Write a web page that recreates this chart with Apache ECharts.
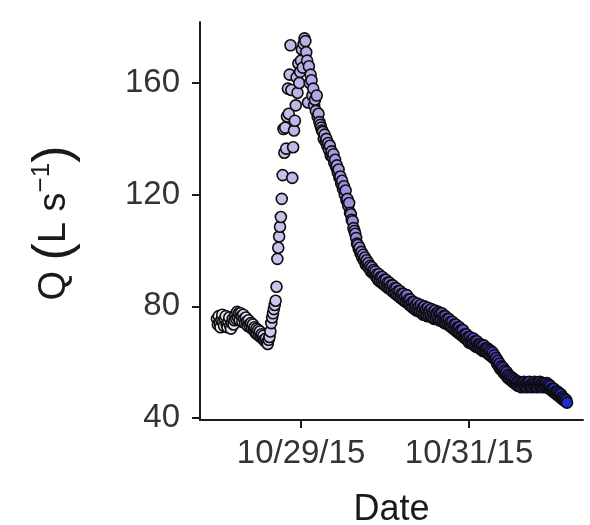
<!DOCTYPE html>
<html>
<head>
<meta charset="utf-8">
<title>Discharge hydrograph</title>
<script src="https://cdn.jsdelivr.net/npm/echarts@6/dist/echarts.min.js"></script>
<style>
  html, body { margin: 0; padding: 0; background: #ffffff; }
  #chart { width: 590px; height: 525px; }
</style>
</head>
<body>
<div id="chart"></div>
<script>
// Record start: 28 Oct 2015, 00:00 local time
const recordStart = [2015, 10, 28];

// Pre-storm base flow, 15-minute readings from 10/28 00:00 (L/s)
const baseflowQ = [
  75.5, 73.5, 76.5, 74, 72.5, 75, 77, 74.5, 73, 75.5, 76.5, 73.5,
  72.5, 74.5, 76, 73, 72, 74, 75.5, 73.5,
  75, 77, 75.5, 78, 76, 77.5, 75, 77.5, 76.5, 74.5, 77, 75.5,
  74, 76, 74.5, 73, 75, 73.5, 72.5, 74,
  72, 73.5, 71.5, 72.5, 70.5, 72, 70, 71.5, 69.5, 71, 69, 70,
  68.5, 69.5, 68, 67.5, 68.5, 67, 66.5, 68
];

// Storm rise and peak, 15-minute readings from 10/28 15:00 (L/s)
const stormQ = [
  69, 71, 74, 76, 77.5, 79, 80.5, 82, 87, 97, 101, 105,
  108.5, 112, 118.5, 127, 143.5, 135, 144, 136.5, 148, 158, 149, 163,
  173.5, 157.5, 126, 137, 143, 146.5, 152, 162, 156.5, 167, 160, 164,
  168, 172, 165.5, 174, 176, 175, 171, 168, 153, 166, 160, 163,
  161, 155.5, 158, 152, 154, 150, 155.5, 148, 149, 146, 145, 144,
  143
];

// Recession, 15-minute readings from 10/29 06:15 (L/s)
const recessionQ = [
  142.5, 140, 141.5, 139,   140, 137.5, 138.5, 136,   137.5, 134, 135.5, 133.5,
  134.5, 131.5, 132.5, 130,   130.5, 128, 129, 126,   126.5, 124, 125, 122,
  123, 120, 121.5, 118,   118.5, 116, 117, 113.5,   113, 111, 110.5, 108,
  107, 106, 104.5, 102.5,   102, 100.5, 101, 99,   99.5, 97.5, 98.5, 96.5,
  97.5, 95, 96.5, 94.5,   95.5, 93.5, 94.5, 92.5,   94, 92, 93, 91.5,
  92.5, 90.5, 91.5, 89.5,   91.5, 89, 90.5, 88.5,   90.5, 88, 89.5, 87.5,
  89.5, 87, 88.5, 86.5,   88.5, 86.5, 87.5, 85.5,   87.5, 85, 86.5, 84.5,
  86.5, 84, 85.5, 83.5,   85.5, 83, 84.5, 82.5,   84.5, 82, 83.5, 81.5,
  84, 81.5, 82.5, 80.5,   82.5, 80, 81.5, 79.5,   81.5, 79, 80.5, 78.5,
  81, 78.5, 80, 78,   80.5, 77.5, 79.5, 77,   80, 77, 79, 76.5,
  79.5, 76.5, 78.5, 76.5,   79, 76, 78, 75.5,   78.5, 75.5, 77.5, 75.5,
  78, 75, 77.5, 75,   77.5, 74.5, 76.5, 74,   76.5, 74, 75.5, 73.5,
  75.5, 73, 74.5, 72.5,   74.5, 72, 73.5, 71.5,   73.5, 71, 72.5, 70.5,
  72.5, 70, 71.5, 69.5,   71.5, 69, 70, 68.5,   70, 68, 69, 67,
  69, 67, 68, 66.5,   68.5, 66, 67.5, 65.5,   67.5, 65.5, 66.5, 65,
  66.5, 64.5, 66, 64,   66, 64, 65, 63.5,   65, 63, 64.5, 62.5,
  64, 62, 63.5, 61.5,   62.5, 61, 61.5, 59.5,   60.5, 58.5, 59.5, 57.5,
  58.5, 57, 58, 56,   57, 55.5, 56.5, 54.5,   55.5, 54, 55, 53.5,
  54.5, 53, 54, 52.5,   53.5, 52, 53, 51.5,   53, 51.5, 52.5, 51,
  52.5, 51.5, 53, 51.5,   52.5, 51, 52.5, 51.5,   53, 51.5, 52, 51,
  52.5, 51.5, 53, 51.5,   52.5, 51, 52.5, 51.5,   53, 51.5, 52.5, 51,
  52.5, 51.5, 52, 51,   52.5, 51, 52, 50.5,   51.5, 50, 50.5, 49.5,
  50.5, 49, 49.5, 48.5,   49.5, 48, 49, 47.5,   48.5, 47, 47.5, 46.5,
  47, 46, 46.5, 45.5
];

// Axis tick positions
const yTicks = [40, 80, 120, 160];
const xTickDates = [[2015, 10, 29], [2015, 10, 31]];

const HOUR = 3600 * 1000;
const t0 = new Date(recordStart[0], recordStart[1] - 1, recordStart[2]).getTime();

// Attach timestamps: each block is a regular logger interval
function block(startHour, stepMinutes, values) {
  return values.map((q, i) => [t0 + startHour * HOUR + i * stepMinutes * 60000, q]);
}
const points = []
  .concat(block(0, 15, baseflowQ))
  .concat(block(15, 15, stormQ))
  .concat(block(30.25, 15, recessionQ));

const tFirst = points[0][0];
const tLast = points[points.length - 1][0];
const xTicks = xTickDates.map(d => new Date(d[0], d[1] - 1, d[2]).getTime());

function fmtDate(v) {
  const d = new Date(v);
  const yy = String(d.getFullYear() % 100).padStart(2, '0');
  return (d.getMonth() + 1) + '/' + d.getDate() + '/' + yy;
}

const FONT = '"Liberation Sans", Arial, Helvetica, sans-serif';
const chart = echarts.init(document.getElementById('chart'), null, { renderer: 'canvas' });

chart.setOption({
  animation: false,
  backgroundColor: '#ffffff',
  grid: { left: 200, right: 7, top: 22, bottom: 105, containLabel: false, outerBoundsMode: 'none' },
  xAxis: {
    type: 'value',
    min: t0 - 4.857 * HOUR,
    max: t0 + 104.57 * HOUR,
    name: 'Date',
    nameLocation: 'middle',
    nameGap: 72,
    nameTextStyle: { fontFamily: FONT, fontSize: 36, color: '#1a1a1a' },
    axisLine: { show: true, onZero: false, lineStyle: { color: '#1a1a1a', width: 2 } },
    axisTick: { show: true, length: 8, customValues: xTicks, lineStyle: { color: '#1a1a1a', width: 2 } },
    axisLabel: {
      customValues: xTicks,
      formatter: fmtDate,
      fontFamily: FONT, fontSize: 33, color: '#333333', margin: 17
    },
    splitLine: { show: false }
  },
  yAxis: {
    type: 'value',
    min: 39.28,
    max: 181.85,
    axisLine: { show: true, onZero: false, lineStyle: { color: '#1a1a1a', width: 2 } },
    axisTick: { show: true, length: 8, customValues: yTicks, lineStyle: { color: '#1a1a1a', width: 2 } },
    axisLabel: {
      customValues: yTicks,
      fontFamily: FONT, fontSize: 33, color: '#333333', margin: 20
    },
    splitLine: { show: false }
  },
  visualMap: {
    show: false,
    type: 'continuous',
    dimension: 0,
    seriesIndex: 0,
    min: tFirst,
    max: tLast,
    inRange: {
      color: ['#eeedf6', '#cdc5ec', '#a898e0', '#8670d8', '#6650cc', '#4238c4', '#1e2ccc']
    }
  },
  graphic: [{
    type: 'text',
    x: 55,
    y: 223,
    rotation: Math.PI / 2,
    style: {
      text: '{b|Q }{p|(}{b|L s}{s|\u22121}{p|)}',
      align: 'center',
      verticalAlign: 'middle',
      fill: '#1a1a1a',
      rich: {
        b: { fontFamily: FONT, fontSize: 38, fill: '#1a1a1a' },
        p: { fontFamily: FONT, fontSize: 52, fill: '#1a1a1a' },
        s: { fontFamily: FONT, fontSize: 26, fill: '#1a1a1a', verticalAlign: 'top' }
      }
    }
  }],
  series: [{
    type: 'scatter',
    data: points,
    symbol: 'circle',
    symbolSize: 11,
    large: false,
    itemStyle: { borderColor: '#0d0d0d', borderWidth: 1.6, opacity: 1 },
    emphasis: { disabled: true },
    silent: true
  }]
});
</script>
</body>
</html>
